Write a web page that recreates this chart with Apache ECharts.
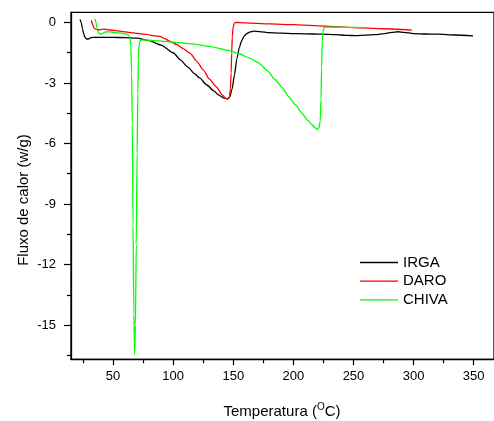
<!DOCTYPE html>
<html>
<head>
<meta charset="utf-8">
<script src="https://cdn.jsdelivr.net/npm/echarts@6/dist/echarts.min.js"></script>
<style>html,body{margin:0;padding:0;background:#fff}#c{width:494px;height:421px}</style>
</head>
<body>
<div id="c"></div>
<script>
const seriesNames = ['IRGA', 'DARO', 'CHIVA'];
const xMajorTicks = [50, 100, 150, 200, 250, 300, 350];
const xMinorTicks = [25, 75, 125, 175, 225, 275, 325, 375];
const yMajorTicks = [0, -3, -6, -9, -12, -15];
const yMinorTicks = [-1.5, -4.5, -7.5, -10.5, -13.5, -16.5];

const irga = [[22.5,0.15],[23.5,0.0],[24.5,-0.3],[25.5,-0.55],[26.5,-0.72],[28,-0.82],[29.5,-0.82],[31,-0.77],[33,-0.74],[40,-0.74],[50,-0.74],[60,-0.75],[70,-0.78],[80,-0.9],[90,-1.12],[100,-1.5],[106,-1.85],[112,-2.2],[118,-2.55],[122,-2.75],[128,-3.1],[134,-3.4],[138,-3.6],[142,-3.74],[145,-3.78],[147,-3.7],[149,-3.3],[151,-2.6],[153,-1.8],[155,-1.25],[157,-0.9],[159,-0.68],[161,-0.56],[164,-0.47],[167,-0.43],[172,-0.45],[180,-0.5],[190,-0.53],[200,-0.55],[210,-0.56],[223,-0.58],[235,-0.6],[245,-0.64],[252,-0.65],[260,-0.63],[268,-0.6],[276,-0.55],[282,-0.49],[287,-0.46],[292,-0.49],[300,-0.55],[310,-0.57],[320,-0.58],[335,-0.62],[349.5,-0.66]];

const daro = [[31.9,0.1],[33,-0.1],[34,-0.25],[35.5,-0.33],[37,-0.36],[39,-0.36],[42,-0.33],[46,-0.36],[55,-0.43],[65,-0.5],[75,-0.58],[89,-0.69],[93,-0.8],[97,-0.92],[103,-1.1],[108,-1.28],[114,-1.52],[120,-1.95],[125,-2.35],[130,-2.8],[136,-3.2],[141,-3.6],[144,-3.78],[145.5,-3.8],[146.8,-3.7],[147.6,-3.3],[148.2,-2.5],[148.7,-1.5],[149.2,-0.7],[149.8,-0.25],[150.8,-0.03],[152,0.0],[160,-0.02],[180,-0.07],[200,-0.11],[226,-0.18],[250,-0.25],[275,-0.31],[298.6,-0.38]];

const chiva = [[35,0.18],[35.8,0.0],[36.6,-0.25],[37.4,-0.45],[38.3,-0.55],[40.2,-0.58],[42,-0.52],[44,-0.46],[47.8,-0.47],[52,-0.5],[57,-0.53],[61,-0.57],[62.8,-0.63],[64,-0.72],[64.8,-1.2],[65.4,-2.5],[66,-5],[66.6,-10],[67.3,-14.5],[67.9,-16.45],[68.6,-15],[69.3,-11],[70,-6.5],[70.6,-3.5],[71.1,-1.8],[71.7,-1.05],[72.6,-0.9],[75,-0.86],[85,-0.9],[100,-0.97],[116,-1.06],[130,-1.18],[146,-1.38],[155,-1.55],[163,-1.75],[171,-2.0],[178,-2.37],[185,-2.84],[191,-3.25],[196,-3.67],[202,-4.1],[207,-4.49],[212,-4.85],[215.5,-5.07],[218,-5.22],[219.8,-5.29],[221.2,-5.22],[222.3,-4.9],[223,-3.8],[223.5,-2.2],[224,-0.9],[224.6,-0.45],[225.5,-0.27],[227,-0.23],[240,-0.24],[258,-0.25]];

const FONT = '"Liberation Sans", Arial, sans-serif';
const chart = echarts.init(document.getElementById('c'), null, {renderer: 'canvas'});
const X_MIN = 15, X_MAX = 366.9, Y_MIN = -16.7, Y_MAX = 0.5;

function mk(name, data, color) {
  return {name, type: 'line', data, symbol: 'none', showSymbol: false, smooth: 0.2, smoothMonotone: 'x',
    lineStyle: {color, width: 1.3}, itemStyle: {color}, xAxisIndex: 0, yAxisIndex: 0, animation: false};
}

chart.setOption({
  animation: false,
  backgroundColor: '#fff',
  grid: {left: 71, right: -4, top: 12.4, bottom: 61.7, show: true, borderColor: '#000', borderWidth: 1.3, backgroundColor: 'transparent'},
  xAxis: [
    {type: 'value', min: X_MIN, max: X_MAX, position: 'bottom',
     axisLine: {show: true, onZero: false, lineStyle: {color: '#000', width: 1.3}},
     axisTick: {show: true, inside: false, length: 6, customValues: xMajorTicks, lineStyle: {color: '#000', width: 1.2}},
     axisLabel: {show: true, customValues: xMajorTicks, margin: 11, color: '#000', fontSize: 13, fontFamily: FONT},
     splitLine: {show: false}},
    {type: 'value', min: X_MIN, max: X_MAX, position: 'bottom',
     axisLine: {show: false, onZero: false},
     axisTick: {show: true, inside: false, length: 4, customValues: xMinorTicks, lineStyle: {color: '#000', width: 1.2}},
     axisLabel: {show: false}, splitLine: {show: false}}
  ],
  yAxis: [
    {type: 'value', min: Y_MIN, max: Y_MAX, position: 'left',
     axisLine: {show: true, onZero: false, lineStyle: {color: '#000', width: 1.3}},
     axisTick: {show: true, inside: false, length: 7, customValues: yMajorTicks, lineStyle: {color: '#000', width: 1.2}},
     axisLabel: {show: true, customValues: yMajorTicks, margin: 15, color: '#000', fontSize: 13, fontFamily: FONT},
     splitLine: {show: false}},
    {type: 'value', min: Y_MIN, max: Y_MAX, position: 'left',
     axisLine: {show: false, onZero: false},
     axisTick: {show: true, inside: false, length: 4, customValues: yMinorTicks, lineStyle: {color: '#000', width: 1.2}},
     axisLabel: {show: false}, splitLine: {show: false}}
  ],
  legend: {
    data: seriesNames, orient: 'vertical', left: 355, top: 250,
    icon: 'rect', itemWidth: 38, itemHeight: 1.3, itemGap: 3.7,
    textStyle: {fontSize: 15, color: '#000', fontFamily: FONT}
  },
  graphic: [
    {type: 'text', x: 282, y: 412, style: {
      text: '{a|Temperatura (}{s|O}{a|C)}', align: 'center', verticalAlign: 'middle',
      rich: {a: {fontSize: 15, fontFamily: FONT, fill: '#000'}, s: {fontSize: 10, fontFamily: FONT, fill: '#000', padding: [0, 0, 10, 0]}}
    }},
    {type: 'text', x: 24, y: 200, rotation: Math.PI / 2, style: {
      text: 'Fluxo de calor (w/g)', align: 'center', verticalAlign: 'middle',
      fontSize: 15, fontFamily: FONT, fill: '#000'
    }}
  ],
  series: [
    mk('IRGA', irga, '#000000'),
    mk('DARO', daro, '#ff0000'),
    mk('CHIVA', chiva, '#00ff00')
  ]
});
</script>
</body>
</html>
